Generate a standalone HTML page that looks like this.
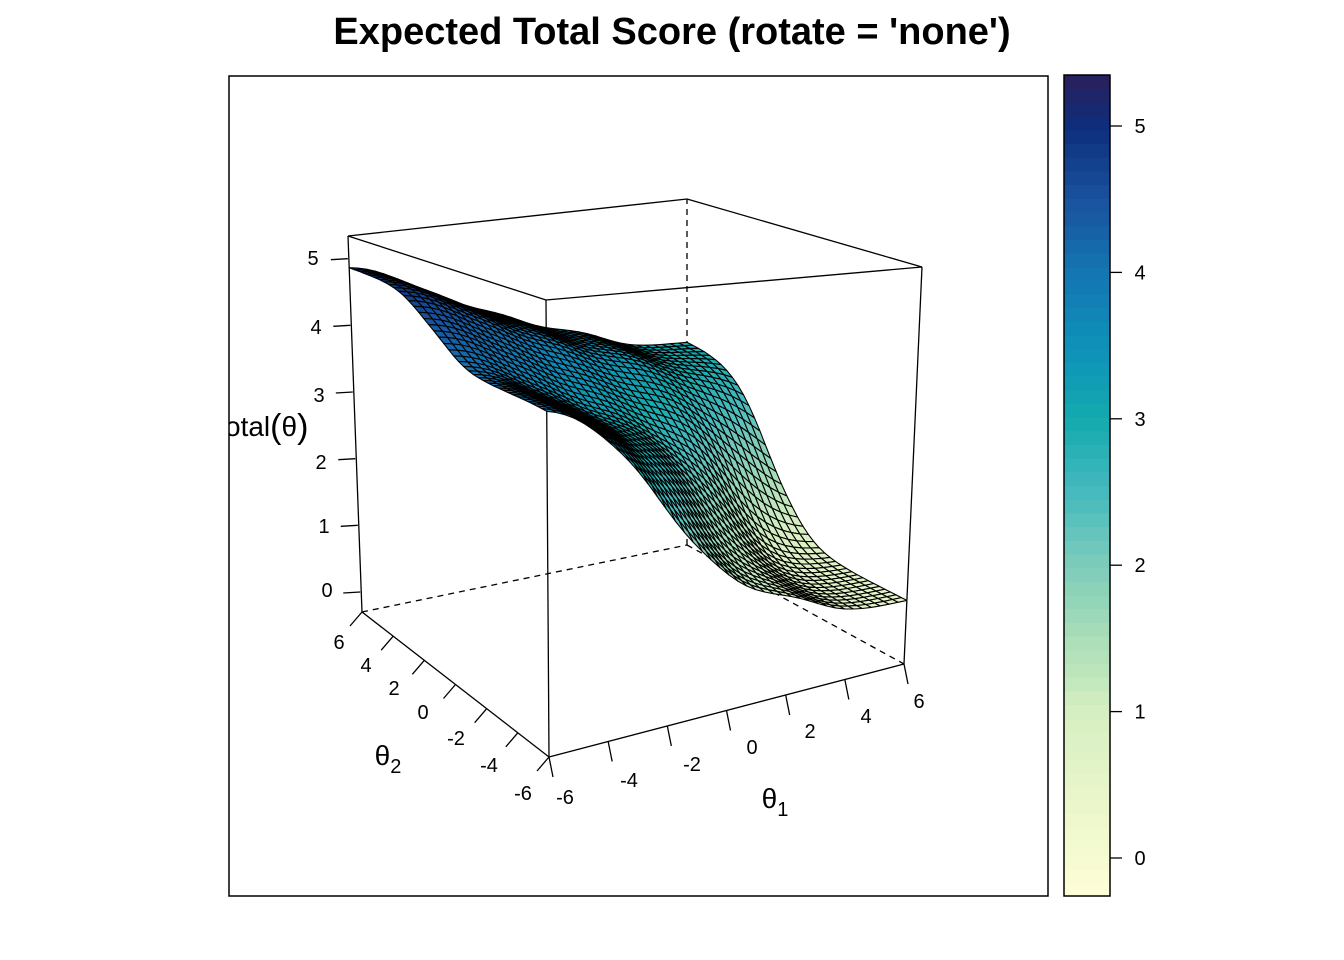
<!DOCTYPE html>
<html><head><meta charset="utf-8">
<style>
html,body{margin:0;padding:0;background:#fff;}
svg{display:block;font-family:"Liberation Sans",Arial,sans-serif;}
</style></head>
<body>
<svg id="s" width="1344" height="960" viewBox="0 0 1344 960" xmlns="http://www.w3.org/2000/svg">
<defs><clipPath id="pc"><rect x="229" y="76" width="819" height="820"/></clipPath></defs>
<rect width="1344" height="960" fill="#fff"/>
<text x="672" y="44" text-anchor="middle" font-size="38" font-weight="bold">Expected Total Score (rotate = 'none')</text>
<g id="plot" clip-path="url(#pc)"></g>
<rect x="229" y="76" width="819" height="820" fill="none" stroke="#000" stroke-width="1.5"/>
<g id="cb"></g>
</svg>
<script>
(function(){
var NS="http://www.w3.org/2000/svg";
function el(t,a,p){var e=document.createElementNS(NS,t);for(var k in a)e.setAttribute(k,a[k]);(p||document.getElementById('plot')).appendChild(e);return e;}
var zb=-0.3,zt=5.34;
var B00=[549,757],B10=[904,664],B01=[362,612],B11=[687,545];
var T00=[546,300],T10=[922,267],T01=[348,236],T11=[687,199];
function lerp(a,b,t){return [a[0]+(b[0]-a[0])*t,a[1]+(b[1]-a[1])*t];}
function P(t1,t2,z){var u=(t1+6)/12,v=(t2+6)/12,w=(z-zb)/(zt-zb);
 var b=lerp(lerp(B00,B10,u),lerp(B01,B11,u),v);
 var t=lerp(lerp(T00,T10,u),lerp(T01,T11,u),v);
 return lerp(b,t,w);}
function sg(x){return 1/(1+Math.exp(-x));}
function f(a,b){
 var s1=(sg(-1.7*(a+4.5))+sg(-1.7*(a+2.5))+sg(-1.7*(a-0))+sg(-1.7*(a-3)))/4;
 var s2=(sg(1.5*(b-0))+sg(1.5*(b-2)))/2;
 return 0.6+1.87*s1+0.87*s2+1.56*sg(-a+b+4);}
var stops=[[-0.26,[255,255,217]],[0,[246,251,208]],[1,[214,239,194]],[1.5,[170,222,184]],[2,[125,204,186]],[2.5,[70,186,190]],[3,[20,170,175]],[3.5,[14,145,185]],[4,[20,118,178]],[4.5,[25,82,158]],[5,[13,46,124]],[5.35,[42,31,90]]];
function col(z){if(z<=stops[0][0])return rgb(stops[0][1]);
 for(var i=1;i<stops.length;i++){if(z<=stops[i][0]){var t=(z-stops[i-1][0])/(stops[i][0]-stops[i-1][0]);var a=stops[i-1][1],b=stops[i][1];return rgb([a[0]+(b[0]-a[0])*t,a[1]+(b[1]-a[1])*t,a[2]+(b[2]-a[2])*t]);}}
 return rgb(stops[stops.length-1][1]);}
function rgb(c){return "rgb("+Math.round(c[0])+","+Math.round(c[1])+","+Math.round(c[2])+")";}
function line(a,b,dash){var o={x1:a[0],y1:a[1],x2:b[0],y2:b[1],stroke:"#000","stroke-width":1.3};if(dash)o["stroke-dasharray"]="6,5";el("line",o);}
line(B01,B11,1);line(B11,B10,1);line(B11,T11,1);
line(T01,T11);line(T11,T10);line(T10,B10);line(B10,B00);line(B00,B01);line(B01,T01);line(T01,T00);line(T00,T10);line(T00,B00);
var N=40,g=[];
for(var i=0;i<=N;i++){g[i]=[];for(var j=0;j<=N;j++){var a=-6+12*i/N,b=-6+12*j/N;g[i][j]=[a,b,f(a,b)];}}
var fac=[];
for(var i=0;i<N;i++)for(var j=0;j<N;j++)fac.push([i,j]);
fac.sort(function(p,q){return (q[0]+q[1])-(p[0]+p[1]);});
fac.forEach(function(p){var i=p[0],j=p[1];var c=[g[i][j],g[i+1][j],g[i+1][j+1],g[i][j+1]];
 var zm=(c[0][2]+c[1][2]+c[2][2]+c[3][2])/4;
 var pts=c.map(function(q){var r=P(q[0],q[1],q[2]);return r[0].toFixed(1)+","+r[1].toFixed(1);}).join(" ");
 el("polygon",{points:pts,fill:col(zm),stroke:"#000","stroke-width":1.1,"stroke-linejoin":"round"});});
function tx(x,y,s,fs,anchor){var t=el("text",{x:x,y:y,"font-size":fs||20,"text-anchor":anchor||"middle"});t.textContent=s;return t;}
[-6,-4,-2,0,2,4,6].forEach(function(v){
 var a=P(v,-6,zb);line(a,[a[0]+4,a[1]+20]);
 var b=P(-6,v,zb);line(b,[b[0]-12,b[1]+14]);});
var l1=[[565,797],[629,780],[692,764],[752,747],[810,731],[866,716],[919,701]];
var v1=["-6","-4","-2","0","2","4","6"];
l1.forEach(function(p,k){tx(p[0],p[1]+7,v1[k]);});
var l2=[[339,642],[366,665],[394,688],[423,712],[456,738],[489,765],[523,793]];
var v2=["6","4","2","0","-2","-4","-6"];
l2.forEach(function(p,k){tx(p[0],p[1]+7,v2[k]);});
var zl=[[313,258,"5"],[316,327,"4"],[319,395,"3"],[321,462,"2"],[324,526,"1"],[327,590,"0"]];
zl.forEach(function(p){tx(p[0],p[1]+7,p[2]);});
[0,1,2,3,4,5].forEach(function(z){var a=P(-6,6,z);line([a[0]-1,a[1]],[a[0]-18,a[1]+1]);});
var t=tx(775,808,"",28);t.innerHTML='θ<tspan font-size="20" dy="8">1</tspan>';
t=tx(388,765,"",28);t.innerHTML='θ<tspan font-size="20" dy="8">2</tspan>';
t=tx(225,436,"",28,"start");t.innerHTML='otal<tspan font-size="34" dy="2">(</tspan><tspan dy="-2">θ</tspan><tspan font-size="34" dy="2">)</tspan>';
var cb=document.getElementById('cb');
var top=75,bot=896,n=60;
for(var k=0;k<n;k++){var z0=-0.26+(5.35+0.26)*k/n,z1=-0.26+(5.35+0.26)*(k+1)/n;
 var y1=bot-(z1+0.26)/5.61*(bot-top),y0=bot-(z0+0.26)/5.61*(bot-top);
 el("rect",{x:1064,y:y1,width:46,height:(y0-y1+0.6),fill:col((z0+z1)/2)},cb);}
el("rect",{x:1064,y:top,width:46,height:bot-top,fill:"none",stroke:"#000","stroke-width":1.5},cb);
[0,1,2,3,4,5].forEach(function(z){var y=858-z*146.4;
 el("line",{x1:1110,y1:y,x2:1122,y2:y,stroke:"#000","stroke-width":1.3},cb);
 var tt=el("text",{x:1140,y:y+7,"font-size":20,"text-anchor":"middle"},cb);tt.textContent=String(z);});
})();
</script>
</body></html>
